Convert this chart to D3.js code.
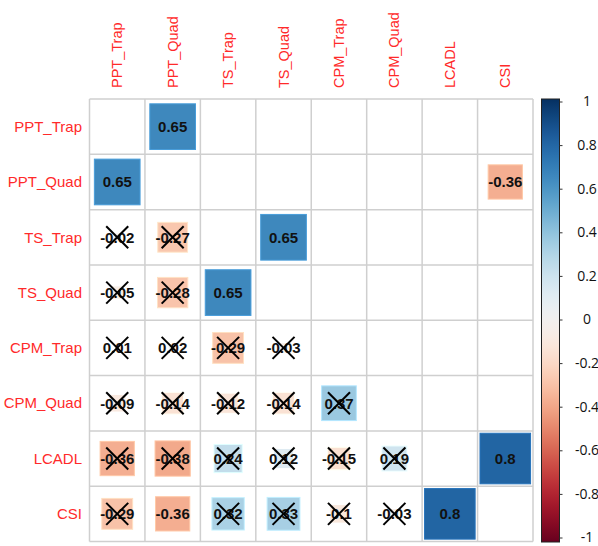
<!DOCTYPE html>
<html>
<head>
<meta charset="utf-8">
<script src="https://cdn.jsdelivr.net/npm/d3@7"></script>
<style>
  html, body { margin: 0; padding: 0; background: #fff; }
  svg { display: block; }
</style>
</head>
<body>
<svg id="chart" width="598" height="546"></svg>
<script>
// Variables in the correlation matrix (row and column order)
const variables = ["PPT_Trap", "PPT_Quad", "TS_Trap", "TS_Quad", "CPM_Trap", "CPM_Quad", "LCADL", "CSI"];

// Lower-triangle correlation coefficients: row i holds r(i, 0..i-1)
const corrLower = [
  [],
  [0.65],
  [-0.02, -0.27],
  [-0.05, -0.28, 0.65],
  [0.01, 0.02, -0.29, -0.03],
  [-0.09, -0.14, -0.12, -0.14, 0.37],
  [-0.36, -0.38, 0.24, 0.12, -0.15, 0.19],
  [-0.29, -0.36, 0.32, 0.33, -0.1, -0.03, 0.8]
];

// Significance flags for the same pairs (1 = significant, 0 = crossed out)
const significant = [
  [],
  [1],
  [0, 0],
  [0, 0, 1],
  [0, 0, 0, 0],
  [0, 0, 0, 0, 0],
  [0, 0, 0, 0, 0, 0],
  [0, 1, 0, 0, 0, 0, 1]
];

// Colour legend tick values
const legendTicks = [1, 0.8, 0.6, 0.4, 0.2, 0, -0.2, -0.4, -0.6, -0.8, -1];

const svg = d3.select("#chart");

const x = d3.scaleBand().domain(variables).range([89.5, 533]);
const y = d3.scaleBand().domain(variables).range([99, 541.5]);
const color = d3.scaleSequential(d3.interpolateRdBu).domain([-1, 1]);
const side = d3.scaleSqrt().domain([0, 1]).range([0, x.bandwidth()]);

// Cells: every lower pair, plus its mirror in the upper triangle when significant
const cells = [];
corrLower.forEach((row, i) => {
  row.forEach((r, j) => {
    const sig = significant[i][j] === 1;
    cells.push({ row: variables[i], col: variables[j], r, sig, cross: !sig });
    if (sig) cells.push({ row: variables[j], col: variables[i], r, sig, cross: false });
  });
});

// Grid
const grid = svg.append("g");
const gridStroke = "#cfcfcf";
const xEdges = variables.map(v => x(v)).concat([x.range()[1]]);
const yEdges = variables.map(v => y(v)).concat([y.range()[1]]);
grid.selectAll("line.v").data(xEdges).join("line")
  .attr("x1", d => d).attr("x2", d => d)
  .attr("y1", y.range()[0]).attr("y2", y.range()[1])
  .attr("stroke", gridStroke).attr("stroke-width", 1.5);
grid.selectAll("line.h").data(yEdges).join("line")
  .attr("y1", d => d).attr("y2", d => d)
  .attr("x1", x.range()[0]).attr("x2", x.range()[1])
  .attr("stroke", gridStroke).attr("stroke-width", 1.5);

// Squares sized by sqrt(|r|)
const cellG = svg.append("g").selectAll("g").data(cells).join("g")
  .attr("transform", d => `translate(${x(d.col) + x.bandwidth() / 2},${y(d.row) + y.bandwidth() / 2})`);

cellG.append("rect")
  .attr("x", d => -(side(Math.abs(d.r)) + 1) / 2)
  .attr("y", d => -(side(Math.abs(d.r)) + 1) / 2)
  .attr("width", d => side(Math.abs(d.r)) + 1)
  .attr("height", d => side(Math.abs(d.r)) + 1)
  .attr("fill", d => color(d.r))
  .attr("stroke", d => d3.color(color(d.r)).brighter(0.4))
  .attr("stroke-width", 1);

cellG.append("text")
  .attr("text-anchor", "middle")
  .attr("dy", "0.36em")
  .attr("font-family", "Liberation Sans, Arial, sans-serif")
  .attr("font-weight", "bold")
  .attr("font-size", 15)
  .attr("fill", "#111")
  .text(d => String(d.r));

// Crosses over non-significant coefficients
const crossed = cellG.filter(d => d.cross);
const c = 11;
crossed.append("line").attr("x1", -c).attr("y1", -c).attr("x2", c).attr("y2", c)
  .attr("stroke", "#000").attr("stroke-width", 2);
crossed.append("line").attr("x1", -c).attr("y1", c).attr("x2", c).attr("y2", -c)
  .attr("stroke", "#000").attr("stroke-width", 2);

// Row labels
const labelColor = "#ff2a2a";
svg.append("g").selectAll("text").data(variables).join("text")
  .attr("x", 82)
  .attr("y", d => y(d) + y.bandwidth() / 2)
  .attr("dy", "0.35em")
  .attr("text-anchor", "end")
  .attr("font-family", "Liberation Sans, Arial, sans-serif")
  .attr("font-size", 15)
  .attr("fill", labelColor)
  .text(d => d);

// Column labels, vertical
svg.append("g").selectAll("text").data(variables).join("text")
  .attr("transform", d => `translate(${x(d) + x.bandwidth() / 2},88) rotate(-90)`)
  .attr("dy", "0.35em")
  .attr("text-anchor", "start")
  .attr("font-family", "Liberation Sans, Arial, sans-serif")
  .attr("font-size", 14.5)
  .attr("fill", labelColor)
  .text(d => d);

// Colour legend
const barX = 541.5, barW = 18, barTop = 99, barBottom = 542;
const defs = svg.append("defs");
const grad = defs.append("linearGradient").attr("id", "rdbu")
  .attr("x1", 0).attr("y1", 1).attr("x2", 0).attr("y2", 0);
grad.selectAll("stop").data(d3.range(0, 1.0001, 0.02)).join("stop")
  .attr("offset", d => d)
  .attr("stop-color", d => d3.interpolateRdBu(d));

svg.append("rect")
  .attr("x", barX).attr("y", barTop)
  .attr("width", barW).attr("height", barBottom - barTop)
  .attr("fill", "url(#rdbu)")
  .attr("stroke", "#222").attr("stroke-width", 1);

const legendY = d3.scaleLinear().domain([-1, 1]).range([538, 102]);
const legendAxis = svg.append("g");
legendAxis.selectAll("line").data(legendTicks).join("line")
  .attr("x1", barX + barW).attr("x2", barX + barW + 3)
  .attr("y1", d => legendY(d)).attr("y2", d => legendY(d))
  .attr("stroke", "#333").attr("stroke-width", 1);
legendAxis.selectAll("text").data(legendTicks).join("text")
  .attr("x", 587)
  .attr("y", d => legendY(d))
  .attr("dy", "0.32em")
  .attr("text-anchor", "middle")
  .attr("font-family", "Open Sans, Liberation Sans, Arial, sans-serif")
  .attr("font-size", 14)
  .attr("fill", "#111")
  .text(d => String(d));
</script>
</body>
</html>
